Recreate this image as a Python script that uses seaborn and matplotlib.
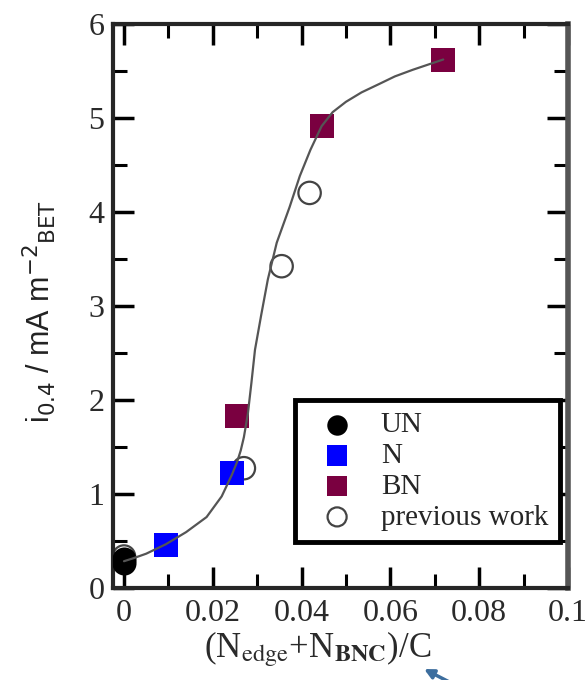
import pandas as pd
import matplotlib.pyplot as plt
import seaborn as sns
from matplotlib.ticker import MultipleLocator

# data
un_x = [0.0, 0.0]
un_y = [0.26, 0.30]
n_x = [0.0094, 0.0243]
n_y = [0.45, 1.22]
bn_x = [0.0254, 0.0445, 0.0719]
bn_y = [1.83, 4.91, 5.61]
prev_x = [0.0, 0.027, 0.0355, 0.0418]
prev_y = [0.33, 1.27, 3.42, 4.20]

curve_x = [0.0, 0.002, 0.005, 0.0094, 0.014, 0.0186, 0.022, 0.0243, 0.0255,
           0.0263, 0.0270, 0.0279, 0.0287, 0.0295, 0.0309, 0.0324, 0.0344,
           0.0373, 0.0396, 0.042, 0.0445, 0.047, 0.050, 0.0535, 0.0575,
           0.061, 0.065, 0.0719]
curve_y = [0.28, 0.31, 0.36, 0.46, 0.59, 0.75, 0.97, 1.20, 1.34,
           1.46, 1.60, 1.85, 2.18, 2.53, 2.90, 3.28, 3.67,
           4.05, 4.38, 4.66, 4.91, 5.06, 5.17, 5.27, 5.36,
           5.44, 5.51, 5.62]

sns.set_style('ticks')
plt.rcParams['font.family'] = ['Liberation Serif', 'DejaVu Serif']
plt.rcParams['mathtext.fontset'] = 'stix'

fig = plt.figure(figsize=(5.88, 6.8), dpi=100)
ax = fig.add_axes([0.192, 0.136, 0.774, 0.829])

curve = pd.DataFrame({'x': curve_x, 'y': curve_y})
sns.lineplot(data=curve, x='x', y='y', sort=False, color='#555555', lw=1.6,
             ax=ax, zorder=4)

sns.scatterplot(x=prev_x, y=prev_y, ax=ax, marker='o', s=260, facecolor='none',
                edgecolor='#444444', linewidth=1.6, label='previous work', zorder=2)
sns.scatterplot(x=un_x, y=un_y, ax=ax, marker='o', s=300, color='black',
                edgecolor='black', linewidth=0, label='UN', zorder=3)
sns.scatterplot(x=n_x, y=n_y, ax=ax, marker='s', s=300, color='#0000ff',
                edgecolor='none', linewidth=0, label='N', zorder=3)
sns.scatterplot(x=bn_x, y=bn_y, ax=ax, marker='s', s=300, color='#7a0040',
                edgecolor='none', linewidth=0, label='BN', zorder=3)

ax.set_xlim(-0.0025, 0.1)
ax.set_ylim(0, 6)
ax.xaxis.set_minor_locator(MultipleLocator(0.01))
ax.yaxis.set_minor_locator(MultipleLocator(0.5))
ax.set_xticks([0, 0.02, 0.04, 0.06, 0.08, 0.1])
ax.set_xticklabels(['0', '0.02', '0.04', '0.06', '0.08', '0.1'])
ax.set_yticks(range(7))
ax.set_yticklabels([str(v) for v in range(7)])

ax.tick_params(which='both', direction='in', top=True, right=True,
               labelsize=23, colors='black', labelcolor='#2a2a2a')
ax.tick_params(axis='x', pad=8)
ax.tick_params(axis='y', pad=6)
ax.tick_params(which='major', length=15, width=2.5)
ax.tick_params(which='minor', length=10, width=2.2)
for side in ['left', 'bottom', 'top']:
    ax.spines[side].set_linewidth(3)
ax.spines['right'].set_linewidth(4)
ax.spines['right'].set_color('#555555')

ax.set_xlabel(r'(N$_{\mathrm{edge}}$+N$_{\mathbf{BNC}}$)/C', fontsize=25,
              color='#2a2a2a')
ax.xaxis.set_label_coords(0.45, -0.075)
ax.set_ylabel(r'i$_{0.4}$ / mA m$^{-2}$$_{\mathrm{BET}}$', fontsize=22,
              family=['Liberation Sans', 'DejaVu Sans'], math_fontfamily='dejavusans',
              color='#222222')
ax.yaxis.set_label_coords(-0.12, 0.49)

handles, labels = ax.get_legend_handles_labels()
order = [labels.index(k) for k in ['UN', 'N', 'BN', 'previous work']]
leg = ax.legend([handles[i] for i in order], [labels[i] for i in order],
                loc='lower right', bbox_to_anchor=(0.995, 0.07), fontsize=21,
                frameon=True, fancybox=False, edgecolor='black', framealpha=1,
                handletextpad=0.45, labelspacing=0.15, borderpad=0.4,
                markerscale=0.85, handlelength=2.1, borderaxespad=0.2)
leg.get_frame().set_linewidth(3.5)

ax.annotate('', xy=(0.717, 0.018), xytext=(0.78, -0.01), xycoords='figure fraction',
            textcoords='figure fraction',
            arrowprops=dict(arrowstyle='-|>', color='#3d6e9e', lw=2.5,
                            mutation_scale=14))

fig.savefig('out.png', dpi=100)
